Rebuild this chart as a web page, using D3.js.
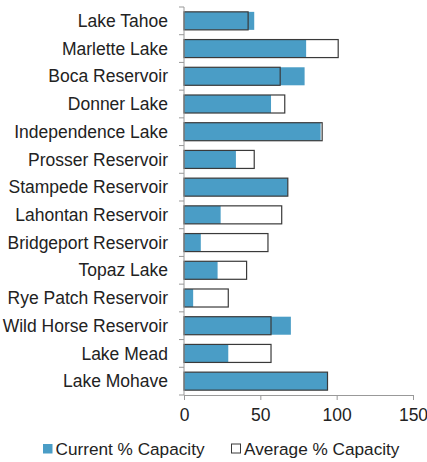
<!DOCTYPE html>
<html>
<head>
<meta charset="utf-8">
<script src="https://cdn.jsdelivr.net/npm/d3@7"></script>
<style>
  body { margin: 0; background: #fff; }
  text { font-family: "Liberation Sans", Arial, sans-serif; fill: #222; }
</style>
</head>
<body>
<div id="chart"></div>
<script>
const lakes = ["Lake Tahoe", "Marlette Lake", "Boca Reservoir", "Donner Lake", "Independence Lake",
  "Prosser Reservoir", "Stampede Reservoir", "Lahontan Reservoir", "Bridgeport Reservoir",
  "Topaz Lake", "Rye Patch Reservoir", "Wild Horse Reservoir", "Lake Mead", "Lake Mohave"];
const currentPct = [46, 80, 79, 57, 89.5, 34, 68, 24, 11, 22, 6, 70, 29, 94];
const averagePct = [42, 101, 63, 66, 90.5, 46, 68, 64, 55, 41, 29, 57, 57, 94];
const xTicks = [0, 50, 100, 150];

const width = 427, height = 462;
const plotLeft = 184, plotRight = 413, plotTop = 7, plotBottom = 395;

const svg = d3.select("#chart").append("svg")
  .attr("width", width)
  .attr("height", height);

const x = d3.scaleLinear().domain([0, 150]).range([plotLeft, plotRight]);
const y = d3.scaleBand().domain(lakes).range([plotTop, plotBottom]).paddingInner(0.35).paddingOuter(0.175);

// current capacity bars
svg.append("g").selectAll("rect")
  .data(lakes)
  .enter()
  .append("rect")
  .attr("x", x(0))
  .attr("y", d => y(d))
  .attr("width", (d, i) => x(currentPct[i]) - x(0))
  .attr("height", y.bandwidth())
  .attr("fill", "#4a9dc6");

// average capacity outlines on top
svg.append("g").selectAll("rect")
  .data(lakes)
  .enter()
  .append("rect")
  .attr("x", x(0))
  .attr("y", d => y(d))
  .attr("width", (d, i) => x(averagePct[i]) - x(0))
  .attr("height", y.bandwidth())
  .attr("fill", "none")
  .attr("stroke", "#3a3a3a")
  .attr("stroke-width", 1.2);

// left axis with ticks between categories
const yAxis = svg.append("g");
yAxis.append("line")
  .attr("x1", plotLeft).attr("x2", plotLeft)
  .attr("y1", plotTop).attr("y2", plotBottom)
  .attr("stroke", "#999");
yAxis.selectAll("line.tick")
  .data(d3.range(lakes.length + 1))
  .enter()
  .append("line")
  .attr("class", "tick")
  .attr("x1", plotLeft - 5).attr("x2", plotLeft)
  .attr("y1", i => plotTop + i * y.step())
  .attr("y2", i => plotTop + i * y.step())
  .attr("stroke", "#999");
yAxis.selectAll("text")
  .data(lakes)
  .enter()
  .append("text")
  .attr("x", 168)
  .attr("y", d => y(d) + y.bandwidth() / 2)
  .attr("dy", "0.35em")
  .attr("text-anchor", "end")
  .attr("font-size", 17.5)
  .text(d => d);

// bottom axis
const xAxis = svg.append("g").attr("transform", `translate(0,${plotBottom})`)
  .call(d3.axisBottom(x).tickValues(xTicks).tickSize(5).tickSizeOuter(0).tickPadding(9));
xAxis.select(".domain").attr("stroke", "#999");
xAxis.selectAll(".tick line").attr("stroke", "#999");
xAxis.selectAll(".tick text")
  .attr("font-size", 17.5)
  .attr("fill", "#222")
  .style("font-family", "'Liberation Sans', Arial, sans-serif");

// legend
const legend = svg.append("g");
legend.append("rect")
  .attr("x", 43).attr("y", 444).attr("width", 9.5).attr("height", 9.5)
  .attr("fill", "#4a9dc6");
legend.append("text")
  .attr("x", 55.5).attr("y", 455)
  .attr("font-size", 17.2)
  .text("Current % Capacity");
legend.append("rect")
  .attr("x", 231.5).attr("y", 444).attr("width", 9).attr("height", 9)
  .attr("fill", "#fff").attr("stroke", "#3a3a3a").attr("stroke-width", 1);
legend.append("text")
  .attr("x", 244).attr("y", 455)
  .attr("font-size", 17.2)
  .text("Average % Capacity");
</script>
</body>
</html>
